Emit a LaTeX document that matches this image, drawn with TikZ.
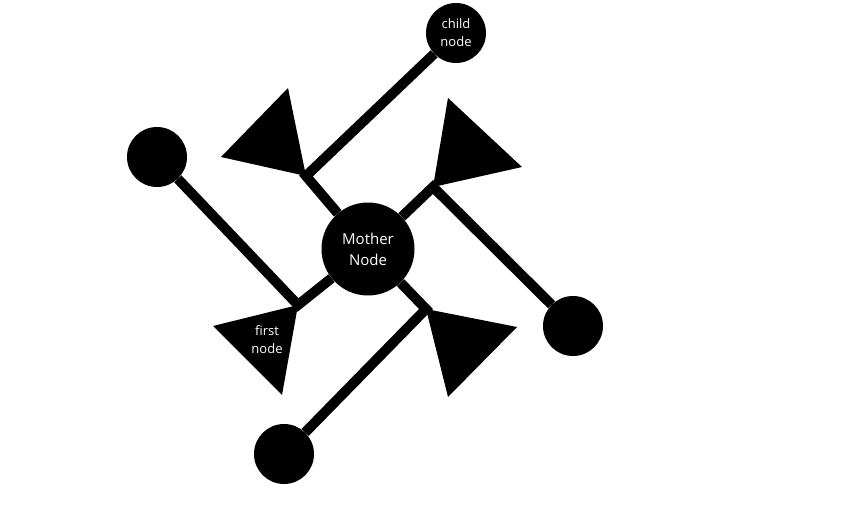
\documentclass[tikz,border=0pt]{standalone}
\usepackage{fontspec}
\setmainfont{Open Sans}

\begin{document}
\begin{tikzpicture}[x=1pt,y=-1pt]
	\tikzset{knot/.style={
		circle, fill=black, inner sep=0pt, minimum size=60pt
	}}
	\tikzset{mother/.style={
		knot, minimum size=93pt, text=white, align=center, font=\fontsize{15}{21}\selectfont
	}}
	\tikzset{labeltext/.style={
		text=white, align=center, font=\fontsize{13}{18}\selectfont
	}}
	\tikzset{conn/.style={
		line width=10pt, line join=miter
	}}
	\tikzset{flag/.style={
		fill=black
	}}

	\useasboundingbox (0,0) rectangle (862,532);

	% Mother Node
	\node (Mother) [mother] at (368,249) {Mother\\Node};

	% Ends
	\node (Child) [knot, labeltext, minimum size=60pt] at (456,33) {child\\node};
	\node (End_ur) [knot] at (573,326) {};
	\node (End_ll) [knot] at (284,454) {};
	\node (End_ul) [knot] at (157,157) {};

	% Junctions
	\coordinate (J_up)    at (306,176); % oben links
	\coordinate (J_right) at (433,187); % oben rechts
	\coordinate (J_down)  at (426,309); % unten rechts
	\coordinate (J_left)  at (298,305); % unten links

	% Flags
	\fill[flag] (J_up) -- (221,157) -- (288,88) -- cycle;
	\fill[flag] (J_right) -- (448,98) -- (522,167) -- cycle;
	\fill[flag] (J_down) -- (517,327) -- (448,397) -- cycle;
	\fill[flag] (J_left) -- (213,326) -- (282,395) -- cycle
		node (First) [labeltext] at (267,340) {first\\node};

	% Connections
	\draw[conn] (Mother) -- (J_up) -- (Child);
	\draw[conn] (Mother) -- (J_right) -- (End_ur);
	\draw[conn] (Mother) -- (J_down) -- (End_ll);
	\draw[conn] (Mother) -- (J_left) -- (End_ul);
\end{tikzpicture}
\end{document}
